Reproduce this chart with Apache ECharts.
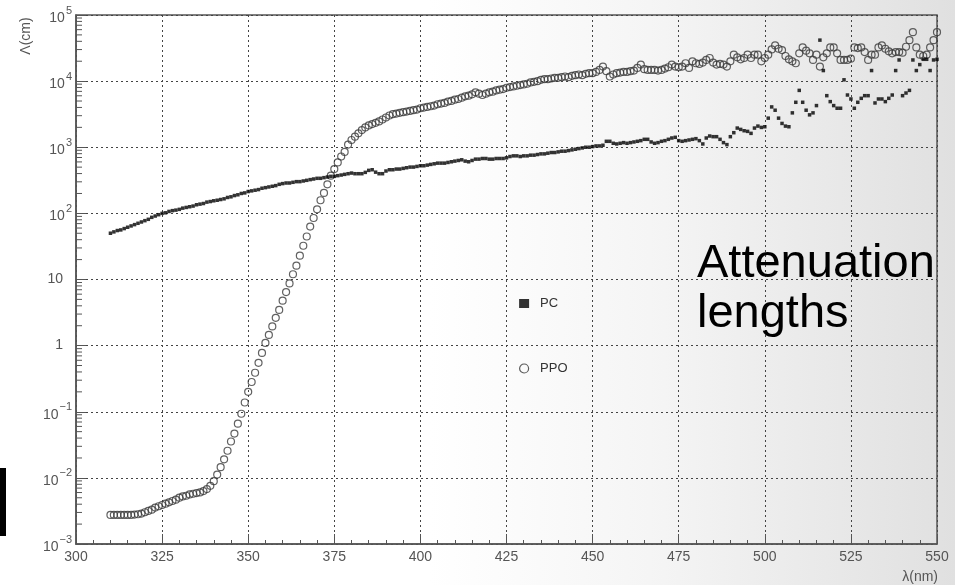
<!DOCTYPE html>
<html>
<head>
<meta charset="utf-8">
<script src="https://cdn.jsdelivr.net/npm/echarts@6/dist/echarts.min.js"></script>
<style>
html,body{margin:0;padding:0;width:955px;height:585px;overflow:hidden;
background:linear-gradient(to right,#ffffff 0%,#ffffff 45%,#f5f5f5 68%,#eaeaea 85%,#e0e0e0 100%);}
#chart{width:955px;height:585px;}
</style>
</head>
<body>
<div id="chart"></div>
<script>
// wavelength sampling grid (nm), one point per nm
const wavelengths = Array.from({length: 241}, (_, i) => 310 + i);

// PC attenuation length (cm), 310..550 nm
const pcValues = [
50.1,52.5,55.0,56.2,58.9,61.7,64.6,67.6,70.8,74.1,
77.6,81.3,87.1,91.2,95.5,100,102,107,110,112,
115,120,123,126,129,135,138,141,148,151,
155,158,162,166,174,178,186,191,200,204,
214,219,224,229,240,245,251,257,263,275,
282,288,288,295,302,302,309,316,324,331,
339,339,347,355,363,363,372,380,389,398,
407,398,398,398,417,447,457,420,398,398,
437,457,457,468,468,479,490,501,501,513,
525,525,537,550,562,575,575,575,589,603,
617,631,646,617,603,631,661,661,676,676,
661,661,676,676,676,692,724,741,741,724,
741,741,759,759,776,794,794,813,832,832,
851,871,871,891,912,933,955,977,1000,1000,
1023,1047,1047,1072,1230,1230,1148,1122,1148,1175,
1148,1175,1202,1230,1259,1318,1318,1202,1148,1175,
1230,1259,1318,1380,1413,1259,1230,1259,1288,1318,
1349,1259,1122,1380,1479,1445,1445,1318,1175,1096,
1445,1660,1950,1862,1778,1738,1622,1950,2089,1995,
2042,2754,4074,3631,2754,2291,2089,2042,3311,4786,
7244,4786,3631,3090,3311,4266,41690,14450,6026,4898,
4266,3890,3890,10470,6166,5370,3890,4786,5495,6026,
6026,14450,4677,5370,5370,4898,5495,6166,14450,20890,
6026,6607,7244,20890,14450,17780,21380,21380,14450,20890,
21380
];

// PPO attenuation length (cm), 310..550 nm
const ppoValues = [
0.00275,0.00275,0.00275,0.00275,0.00275,0.00275,0.00275,0.00279,0.00282,0.00288,
0.00302,0.00316,0.00331,0.00355,0.00372,0.00389,0.00407,0.00427,0.00447,0.00468,
0.00501,0.00525,0.00537,0.00562,0.00575,0.00589,0.00603,0.00631,0.00676,0.00759,
0.00891,0.0112,0.0145,0.0191,0.0257,0.0355,0.0468,0.0661,0.0933,0.138,
0.200,0.282,0.389,0.550,0.776,1.10,1.45,1.95,2.63,3.47,
4.79,6.46,8.71,12.0,16.2,22.9,32.4,44.7,63.1,85.1,
115,158,204,275,372,468,589,724,851,1096,
1288,1445,1622,1820,1995,2138,2239,2344,2455,2630,
2818,3020,3162,3236,3311,3388,3467,3548,3631,3715,
3890,3981,4074,4169,4266,4467,4571,4677,4898,5012,
5248,5370,5623,5888,6026,6310,6761,6457,6166,6457,
6761,6918,7244,7413,7586,7943,8128,8318,8511,8710,
8913,9120,9550,9772,10000,10470,10720,10720,10960,11220,
11220,11480,11750,11480,12020,12300,12590,12300,12880,13180,
13180,13800,14790,16600,14130,11750,12590,13180,13490,13800,
13800,14130,14450,15850,17780,15140,14790,14790,14790,14450,
14790,15490,16220,17780,16600,16220,16600,18620,15850,19950,
18620,18200,19050,20890,22390,19050,17780,18200,17780,16600,
19950,25120,22910,21380,22390,25120,22390,25120,25120,19950,
22390,25120,30200,34670,30900,29510,23990,21380,19950,18620,
26300,32360,28840,26300,20890,25120,16600,22910,26300,32360,
32360,26300,20890,20890,20890,21880,32360,31620,32360,27540,
20890,25120,25120,32360,34670,30900,28180,26300,27540,27540,
26920,33110,41690,54950,32360,25120,23990,25120,32360,41690,
54950
];

const seriesNames = ['PC', 'PPO'];
const xTicks = [300, 325, 350, 375, 400, 425, 450, 475, 500, 525, 550];
const yTickLabels = ['10^\u22123', '10^\u22122', '10^\u22121', '1', '10', '10^2', '10^3', '10^4', '10^5'];
const yMinorTickValues = [];
[0.001, 0.01, 0.1, 1, 10, 100, 1000, 10000].forEach(d => {
  [2, 3, 4, 5, 6, 7, 8, 9].forEach(m => yMinorTickValues.push(+(d * m).toPrecision(3)));
});

const FONT = 'Liberation Sans, Arial, Helvetica, sans-serif';
const AXC = '#555555';

const chart = echarts.init(document.getElementById('chart'), null, {renderer: 'canvas'});

const pcData = wavelengths.map((w, i) => [w, pcValues[i]]);
const ppoData = wavelengths.map((w, i) => [w, ppoValues[i]]);

chart.setOption({
  backgroundColor: 'transparent',
  animation: false,
  grid: {left: 76, right: 18, top: 15, bottom: 41, show: true, borderColor: AXC, borderWidth: 1.5},
  legend: {
    orient: 'vertical', left: 514, top: 292, itemWidth: 10, itemHeight: 9, itemGap: 52,
    textStyle: {fontFamily: FONT, fontSize: 13, color: '#333', padding: [0, 0, 0, 6]},
    data: [
      {name: seriesNames[0], icon: 'rect', itemStyle: {color: '#000'}},
      {name: seriesNames[1], icon: 'circle', itemStyle: {color: 'rgba(0,0,0,0)', borderColor: '#333', borderWidth: 1.2}}
    ]
  },
  xAxis: {
    type: 'value', min: 300, max: 550, interval: 25,
    axisLine: {show: true, lineStyle: {color: AXC, width: 1.5}},
    axisTick: {show: true, inside: true, length: 10, lineStyle: {color: AXC}},
    minorTick: {show: true, splitNumber: 5, length: 4, lineStyle: {color: AXC}},
    splitLine: {show: true, lineStyle: {color: '#444', width: 1, type: [2, 3]}},
    axisLabel: {
      fontFamily: FONT, fontSize: 14, color: AXC, margin: 6,
      formatter: v => { const t = xTicks.find(x => x === v); return t === undefined ? '' : String(t); }
    }
  },
  yAxis: {
    type: 'log', logBase: 10, min: 0.001, max: 100000, splitNumber: 8,
    axisLine: {show: true, lineStyle: {color: AXC, width: 1.5}},
    axisTick: {show: true, inside: true, length: 10, lineStyle: {color: AXC}},
    splitLine: {show: true, lineStyle: {color: '#444', width: 1, type: [2, 3]}},
    axisLabel: {
      margin: 4,
      formatter: v => {
        const idx = Math.round(Math.log10(v)) + 3;
        const s = yTickLabels[idx];
        if (!s) return '';
        if (s.indexOf('^') >= 0) {
          const p = s.split('^');
          return '{b|' + p[0] + '}{s|' + p[1] + '}';
        }
        return '{p|' + s + '}';
      },
      rich: {
        b: {fontFamily: FONT, fontSize: 14, color: AXC, verticalAlign: 'bottom'},
        s: {fontFamily: FONT, fontSize: 11, color: AXC, padding: [0, 0, 9, 1], verticalAlign: 'bottom'},
        p: {fontFamily: FONT, fontSize: 14, color: AXC, padding: [0, 9, 0, 0]}
      }
    }
  },
  series: [
    {
      name: 'yMinorTicks', type: 'custom', silent: true, z: 5,
      data: yMinorTickValues.map(v => [300, v]),
      renderItem: (params, api) => {
        const p = api.coord([api.value(0), api.value(1)]);
        return {type: 'line', shape: {x1: p[0], y1: p[1], x2: p[0] + 6, y2: p[1]},
                style: {stroke: AXC, lineWidth: 1}};
      },
      clip: false
    },
    {
      name: seriesNames[1], type: 'scatter', data: ppoData, symbol: 'circle', symbolSize: 7,
      itemStyle: {color: 'rgba(0,0,0,0)', borderColor: '#3a3a3a', borderWidth: 1.2}, z: 3
    },
    {
      name: seriesNames[0], type: 'scatter', data: pcData, symbol: 'rect', symbolSize: 3.5,
      itemStyle: {color: '#000'}, z: 4
    }
  ],
  graphic: [
    {type: 'rect', shape: {x: 0, y: 468, width: 6, height: 68}, style: {fill: '#000'}},
    {type: 'text', x: 26, y: 36, rotation: Math.PI / 2,
     style: {text: '\u039B(cm)', font: '14px ' + FONT, fill: AXC, textAlign: 'center', textVerticalAlign: 'middle'}},
    {type: 'text', x: 938, y: 577,
     style: {text: '\u03BB(nm)', font: '14px ' + FONT, fill: AXC, textAlign: 'right', textVerticalAlign: 'middle'}},
    {type: 'text', x: 697, y: 239, z: 10,
     style: {text: 'Attenuation\nlengths', fontFamily: FONT, fontSize: 47, lineHeight: 50, fill: '#000', textAlign: 'left', textVerticalAlign: 'top'}}
  ]
});
</script>
</body>
</html>
